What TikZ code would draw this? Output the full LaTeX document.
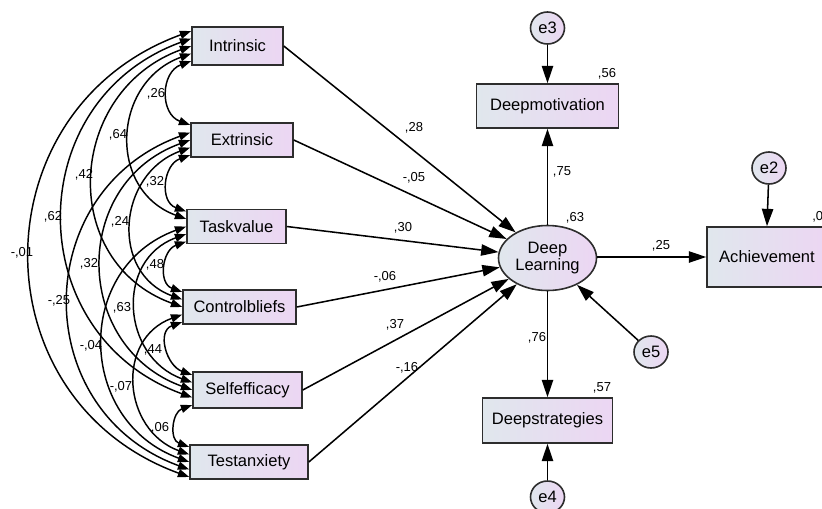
\documentclass[tikz,border=0pt]{standalone}
\usepackage{fontspec}
\setmainfont{Liberation Sans}
\usepackage{xcolor}
\usepackage{tikz}
\usetikzlibrary{positioning}
\usetikzlibrary{shapes.geometric}
\usetikzlibrary{arrows.meta}

\definecolor{boxleft}{RGB}{224,231,237}
\definecolor{boxright}{RGB}{236,214,243}
\definecolor{edgegray}{RGB}{45,45,45}

\begin{document}
\begin{tikzpicture}
    [%%%%%%%%%%%%%%%%%%%%%%%%%%%%%%
        x=0.75pt, y=0.75pt,
        box/.style={rectangle, draw=edgegray, line width=1.2pt, left color=boxleft, right color=boxright, inner sep=0pt, font=\fontsize{12.4}{14}\selectfont},
        latent/.style={ellipse, draw=edgegray, line width=1.2pt, left color=boxleft, right color=boxright, inner sep=0pt, align=center, font=\fontsize{12.4}{13.2}\selectfont},
        err/.style={ellipse, draw=edgegray, line width=1.2pt, left color=boxleft, right color=boxright, minimum width=25.5pt, minimum height=24pt, inner sep=0pt, font=\fontsize{12.4}{14}\selectfont},
        reg/.style={line width=1.15pt, -{Triangle[length=13pt,width=8.5pt]}},
        cov/.style={line width=1.1pt, {Triangle[length=8.5pt,width=6pt]}-{Triangle[length=8.5pt,width=6pt]}},
        coef/.style={inner sep=0pt, font=\fontsize{9.75}{11}\selectfont}
    ]%%%%%%%%%%%%%%%%%%%%%%%%%%%%%%
\useasboundingbox (0,0) rectangle (822,-508);
\clip (0,0) rectangle (822,-508);

% observed predictors
\node[box, minimum width=68.25pt, minimum height=28.5pt] (b1) at (237.5,-46) {Intrinsic};
\node[box, minimum width=76.5pt, minimum height=25.5pt] (b2) at (242,-140) {Extrinsic};
\node[box, minimum width=74.25pt, minimum height=25.5pt] (b3) at (236.5,-226.5) {Taskvalue};
\node[box, minimum width=84.75pt, minimum height=25.5pt] (b4) at (239.5,-307) {Controlbliefs};
\node[box, minimum width=81.75pt, minimum height=27pt] (b5) at (247.5,-390) {Selfefficacy};
\node[box, minimum width=88.5pt, minimum height=25.5pt] (b6) at (249,-462) {Testanxiety};

% right part
\node[latent, minimum width=73.5pt, minimum height=48.75pt] (dl) at (547.5,-258) {Deep\\Learning};
\node[box, minimum width=106.5pt, minimum height=33pt] (dm) at (547.5,-106) {Deepmotivation};
\node[box, minimum width=97.5pt, minimum height=33.75pt] (ds) at (547.5,-420.5) {Deepstrategies};
\node[box, minimum width=90pt, minimum height=45pt] (ach) at (767,-257) {Achievement};

\node[err] (e3) at (547.5,-28) {e3};
\node[err] (e4) at (547.5,-497) {e4};
\node[err] (e5) at (651,-352) {e5};
\node[err] (e2) at (769,-168) {e2};

% covariances
\foreach \i/\j in {1/2,1/3,1/4,1/5,1/6,2/3,2/4,2/5,2/6,3/4,3/5,3/6,4/5,4/6,5/6}{
    \pgfmathsetmacro{\yi}{(15-7.5*(\i-1+6-\j))*0.75}
    \pgfmathsetmacro{\yj}{(15-7.5*(\j-1-\i))*0.75}
    \draw[cov] ([yshift=\yi pt]b\i.west) to[out=200,in=160,looseness=1.3] ([yshift=\yj pt]b\j.west);
}

\node[coef] (c12) at (156,-94) {,26};
\node[coef] (c23) at (155,-182) {,32};
\node[coef] (c34) at (155,-265) {,48};
\node[coef] (c45) at (153,-350) {,44};
\node[coef] (c56) at (160,-428) {,06};
\node[coef] (c13) at (118,-135) {,64};
\node[coef] (c24) at (120,-222) {,24};
\node[coef] (c35) at (122,-308) {,63};
\node[coef] (c46) at (121,-387) {-,07};
\node[coef] (c14) at (84,-175) {,42};
\node[coef] (c25) at (89,-264) {,32};
\node[coef] (c36) at (91,-346) {-,04};
\node[coef] (c15) at (53,-217) {,62};
\node[coef] (c26) at (59,-301) {-,25};
\node[coef] (c16) at (22,-253) {-,01};

% regressions
\foreach \i in {1,...,6}
    \draw[reg] (b\i.east) -- (dl);

\node[coef] (r1) at (414,-128) {,28};
\node[coef] (r2) at (414,-178) {-,05};
\node[coef] (r3) at (403,-228) {,30};
\node[coef] (r4) at (385,-277) {-,06};
\node[coef] (r5) at (395,-325) {,37};
\node[coef] (r6) at (407,-368) {-,16};

\draw[reg] (dl.north) -- (dm.south);
\draw[reg] (dl.south) -- (ds.north);
\draw[reg] (dl.east |- ach.west) -- (ach.west);
\draw[reg] (e3) -- (dm.north);
\draw[reg] (e4) -- (ds.south);
\draw[reg] (e5) -- (dl);
\draw[reg] (e2) -- (ach.north);

\node[coef] (r75) at (562,-172) {,75};
\node[coef] (r76) at (537,-338) {,76};
\node[coef] (r25) at (661,-246) {,25};
\node[coef] (s56) at (607,-74) {,56};
\node[coef] (s63) at (575,-218) {,63};
\node[coef] (s57) at (602,-388) {,57};
\node[coef, anchor=west] (s0) at (812,-217) {,0};

\end{tikzpicture}
\end{document}
